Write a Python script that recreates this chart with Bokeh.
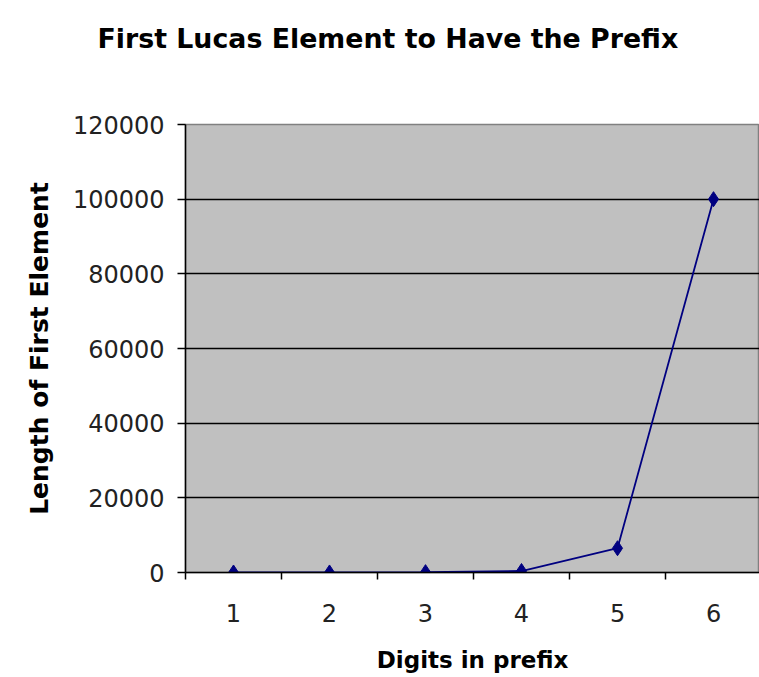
from bokeh.plotting import figure
from bokeh.models import FixedTicker, BasicTickFormatter, Range1d, Title
from bokeh.embed import file_html
from bokeh.resources import INLINE

# Data
digits = [1, 2, 3, 4, 5, 6]
lengths = [1, 10, 100, 400, 6500, 100000]
y_ticks = [0, 20000, 40000, 60000, 80000, 100000, 120000]
grid_ticks = [20000, 40000, 60000, 80000, 100000]
x_minor = [0.5, 1.5, 2.5, 3.5, 4.5, 5.5, 6.5]
title_text = "First Lucas Element to Have the Prefix"

FONT = "DejaVu Sans"

p = figure(
    width=759, height=677,
    output_backend="svg", toolbar_location=None,
    x_range=Range1d(0.5, 6.479), y_range=Range1d(0, 120000),
    min_border_left=185, min_border_right=0,
    min_border_top=124, min_border_bottom=105,
    title=title_text,
)
p.background_fill_color = "#C0C0C0"
p.border_fill_color = "white"
p.outline_line_color = "#808080"
p.outline_line_width = 1.5

p.title.text_font = FONT
p.title.text_font_size = "26.8px"
p.title.text_font_style = "bold"
p.title.text_color = "black"
p.title.align = "left"
p.title.offset = -88
p.title.standoff = 10

# blank spacer between the title and the plot area
spacer = Title(text=" ", text_font=FONT, text_font_size="26.5px", standoff=33)
p.add_layout(spacer, "above")

# X axis
xa = p.xaxis[0]
xa.ticker = FixedTicker(ticks=digits, minor_ticks=x_minor)
xa.major_tick_out = 0
xa.major_tick_in = 0
xa.minor_tick_out = 7
xa.minor_tick_in = 0
xa.minor_tick_line_color = "black"
xa.minor_tick_line_width = 1.5
xa.axis_line_color = "black"
xa.axis_line_width = 1.5
xa.major_label_text_font = FONT
xa.major_label_text_font_size = "24px"
xa.major_label_text_color = "#222222"
xa.major_label_standoff = 24
xa.axis_label = "Digits in prefix"
xa.axis_label_text_font = FONT
xa.axis_label_text_font_size = "23px"
xa.axis_label_text_font_style = "bold"
xa.axis_label_text_color = "black"
xa.axis_label_standoff = 22

# Y axis
ya = p.yaxis[0]
ya.ticker = FixedTicker(ticks=y_ticks)
ya.formatter = BasicTickFormatter(use_scientific=False)
ya.major_tick_out = 8
ya.major_tick_in = 0
ya.minor_tick_out = 0
ya.minor_tick_in = 0
ya.major_tick_line_color = "black"
ya.major_tick_line_width = 1.5
ya.axis_line_color = "black"
ya.axis_line_width = 1.5
ya.major_label_text_font = FONT
ya.major_label_text_font_size = "24px"
ya.major_label_text_color = "#222222"
ya.major_label_standoff = 13
ya.axis_label = "Length of First Element"
ya.axis_label_text_font = FONT
ya.axis_label_text_font_size = "25px"
ya.axis_label_text_font_style = "bold"
ya.axis_label_text_color = "black"
ya.axis_label_standoff = 16

p.xgrid.visible = False
p.ygrid.ticker = FixedTicker(ticks=grid_ticks)
p.ygrid.grid_line_color = "black"
p.ygrid.grid_line_width = 1.5

p.line(digits, lengths, line_color="#000080", line_width=1.8)
p.scatter(digits, lengths, marker="diamond", size=15,
          fill_color="#000080", line_color="#000080")

open("out.html", "w").write(file_html(p, INLINE))
